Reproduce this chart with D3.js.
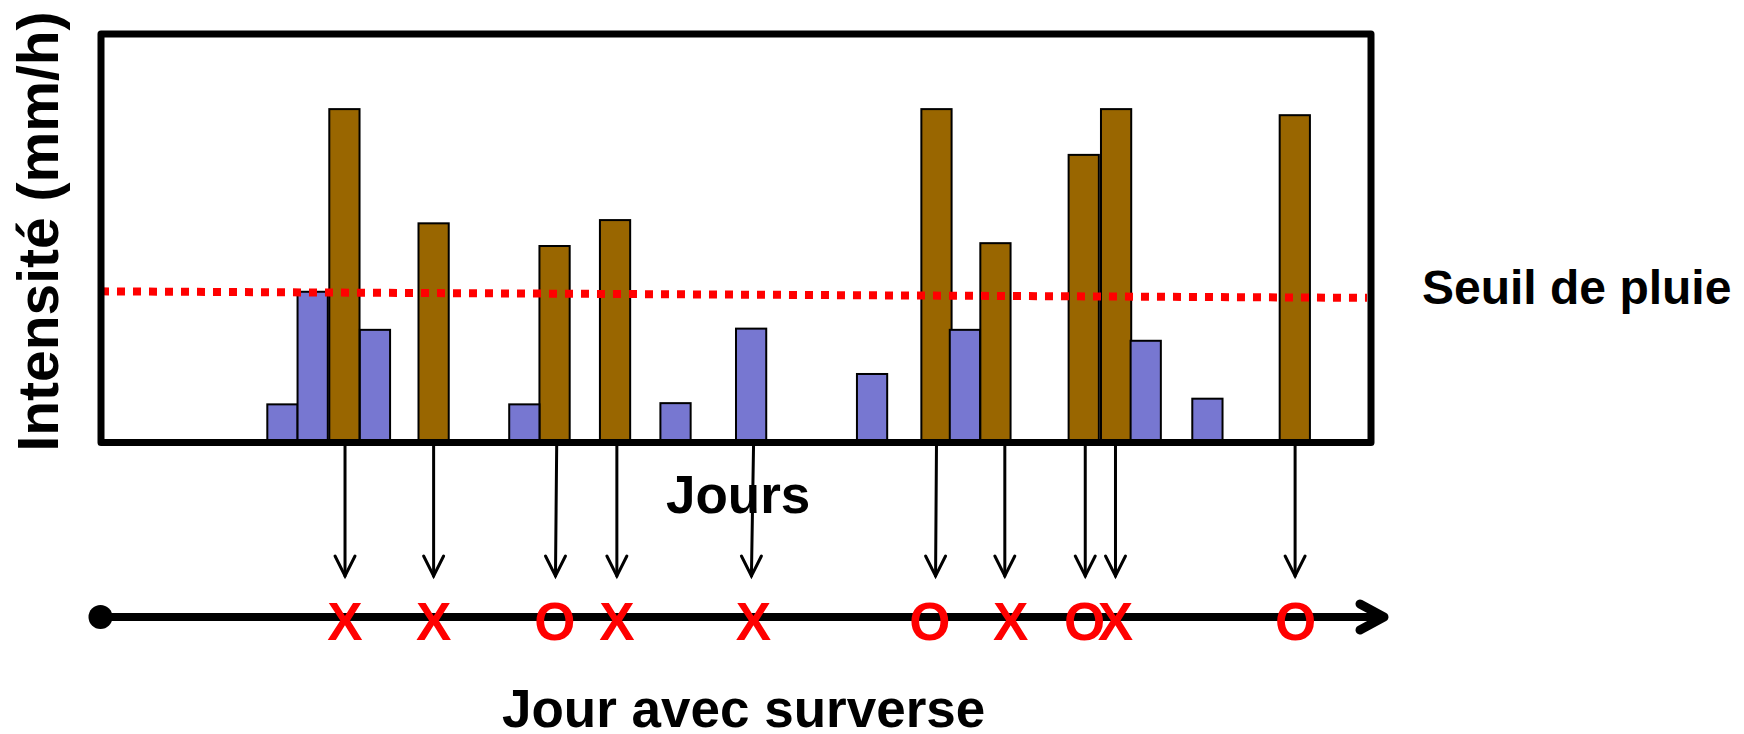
<!DOCTYPE html>
<html>
<head>
<meta charset="utf-8">
<script src="https://cdn.jsdelivr.net/npm/d3@7"></script>
<style>
  html, body { margin: 0; padding: 0; background: #fff; }
  svg { display: block; }
  text { font-family: "Liberation Sans", Arial, Helvetica, sans-serif; font-weight: bold; }
</style>
</head>
<body>
<div id="chart"></div>
<script>
// ---- Data (x in "days", y in intensity units) ----
const blueDays   = [6.0, 7.0, 9.06, 14.0, 19.0, 21.5, 25.5, 28.57, 34.55, 36.59];
const blueValues = [8.8, 36.6, 27.2, 8.8, 9.1, 27.5, 16.3, 27.2, 24.5, 10.2];
const brownDays   = [8.05, 11.0, 15.0, 17.0, 27.63, 29.58, 32.5, 33.57, 39.48];
const brownValues = [81.7, 53.5, 47.9, 54.3, 81.7, 48.6, 70.4, 81.7, 80.2];
const thresholdDays   = [0, 42];
const thresholdValues = [36.7, 35.1];
const arrowTopDays    = [8.07, 11.0, 15.07, 17.06, 21.58, 27.63, 29.89, 32.55, 33.55, 39.49];
const arrowBottomDays = [8.07, 11.0, 15.03, 17.06, 21.51, 27.60, 29.89, 32.55, 33.55, 39.49];
const markerDays   = [8.07, 11.0, 15.01, 17.06, 21.58, 27.41, 30.08, 32.53, 33.55, 39.51];
const markerLabels = ["X", "X", "O", "X", "X", "O", "X", "O", "X", "O"];
const yLabel = "Intensité (mm/h)";
const xLabel = "Jours";
const thresholdLabel = "Seuil de pluie";
const timelineLabel = "Jour avec surverse";

// ---- Layout ----
const W = 1744, H = 734;
const boxL = 101, boxR = 1371, boxT = 34, boxB = 442.5;
const x = d3.scaleLinear().domain([0, 42]).range([boxL, boxR]);
const y = d3.scaleLinear().domain([0, 100]).range([440, 35]);
const barW = x(1) - x(0);

const svg = d3.select("#chart").append("svg").attr("width", W).attr("height", H);

// bars (brown first, blue on top)
const brownData = brownDays.map((d, i) => ({ d, v: brownValues[i] }));
const blueData = blueDays.map((d, i) => ({ d, v: blueValues[i] }));

svg.append("g").selectAll("rect").data(brownData).join("rect")
  .attr("x", d => x(d.d) - barW / 2).attr("width", barW)
  .attr("y", d => y(d.v)).attr("height", d => y(0) - y(d.v))
  .attr("fill", "#996600").attr("stroke", "#000").attr("stroke-width", 2);

svg.append("g").selectAll("rect").data(blueData).join("rect")
  .attr("x", d => x(d.d) - barW / 2).attr("width", barW)
  .attr("y", d => y(d.v)).attr("height", d => y(0) - y(d.v))
  .attr("fill", "#7777d1").attr("stroke", "#000").attr("stroke-width", 2);

// threshold dotted line
svg.append("line")
  .attr("x1", x(thresholdDays[0])).attr("y1", y(thresholdValues[0]))
  .attr("x2", x(thresholdDays[1]) - 4).attr("y2", y(thresholdValues[1]))
  .attr("stroke", "#ff0000").attr("stroke-width", 8).attr("stroke-dasharray", "8,8");

// frame
svg.append("rect")
  .attr("x", boxL).attr("y", boxT).attr("width", boxR - boxL).attr("height", boxB - boxT)
  .attr("fill", "none").attr("stroke", "#000").attr("stroke-width", 7)
  .attr("stroke-linejoin", "round");

// arrows down
const arrowY1 = 446, arrowY2 = 576;
const arrows = arrowTopDays.map((d, i) => ({ t: x(d), b: x(arrowBottomDays[i]) }));
const ag = svg.append("g").attr("stroke", "#000").attr("stroke-width", 3).attr("fill", "none")
  .attr("stroke-linecap", "round").attr("stroke-linejoin", "miter");
ag.selectAll("line").data(arrows).join("line")
  .attr("x1", d => d.t).attr("y1", arrowY1).attr("x2", d => d.b).attr("y2", arrowY2);
ag.selectAll("path").data(arrows).join("path")
  .attr("d", d => `M${d.b - 10},${arrowY2 - 20} L${d.b},${arrowY2} L${d.b + 10},${arrowY2 - 20}`);

// timeline
const tlY = 617;
svg.append("line").attr("x1", x(0)).attr("y1", tlY).attr("x2", 1382).attr("y2", tlY)
  .attr("stroke", "#000").attr("stroke-width", 8);
svg.append("circle").attr("cx", x(0) - 0.5).attr("cy", tlY).attr("r", 12).attr("fill", "#000");
svg.append("path").attr("d", `M1360,604 L1384,${tlY} L1360,630`)
  .attr("fill", "none").attr("stroke", "#000").attr("stroke-width", 9)
  .attr("stroke-linecap", "round").attr("stroke-linejoin", "round");

// markers
svg.append("g").selectAll("text").data(markerDays.map((d, i) => ({ d, l: markerLabels[i] }))).join("text")
  .attr("x", d => x(d.d)).attr("y", 640).attr("text-anchor", "middle")
  .attr("font-size", 53).attr("fill", "#ff0000").text(d => d.l);

// labels
svg.append("text").attr("transform", "translate(58,231.5) rotate(-90)")
  .attr("text-anchor", "middle").attr("font-size", 57).attr("fill", "#000").text(yLabel);
svg.append("text").attr("x", 666).attr("y", 513).attr("font-size", 53).attr("fill", "#000").text(xLabel);
svg.append("text").attr("x", 1422).attr("y", 304).attr("font-size", 48).attr("fill", "#000").text(thresholdLabel);
svg.append("text").attr("x", 502).attr("y", 727).attr("font-size", 53).attr("fill", "#000").text(timelineLabel);
</script>
</body>
</html>
